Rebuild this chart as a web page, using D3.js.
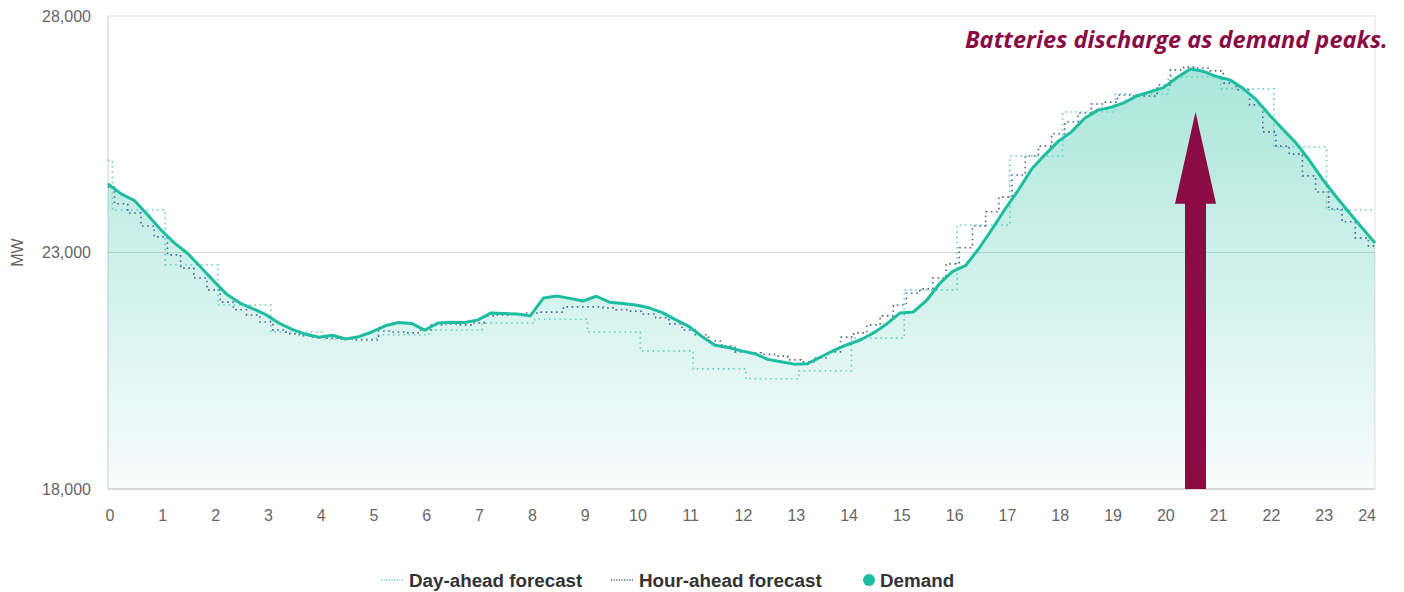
<!DOCTYPE html>
<html>
<head>
<meta charset="utf-8">
<script src="https://cdn.jsdelivr.net/npm/d3@7"></script>
<style>
  html, body { margin: 0; padding: 0; background: #ffffff; }
  svg { display: block; }
</style>
</head>
<body>
<svg id="chart" width="1404" height="592"></svg>
<script>
// ---- data ---------------------------------------------------------------
// Demand and hour-ahead forecast, MW, every 15 minutes from 0:00 to 24:00
const demand = [
  24450, 24240, 24100, 23800, 23480, 23210, 22990, 22700,
  22400, 22115, 21930, 21810, 21680, 21500, 21370, 21270,
  21210, 21250, 21170, 21220, 21320, 21450, 21520, 21500,
  21360, 21510, 21525, 21520, 21570, 21720, 21710, 21700,
  21660, 22040, 22080, 22030, 21975, 22075, 21950, 21920,
  21890, 21830, 21730, 21580, 21440, 21225, 21040, 20990,
  20920, 20860, 20740, 20690, 20640, 20650, 20790, 20930,
  21050, 21150, 21300, 21490, 21720, 21740, 21980, 22340,
  22600, 22730, 23090, 23500, 23930, 24330, 24770, 25070,
  25350, 25550, 25840, 26010, 26070, 26170, 26315, 26400,
  26490, 26700, 26880, 26830, 26720, 26650, 26470, 26230,
  25910, 25610, 25320, 24960, 24560, 24200, 23860, 23530,
  23200
];
const hourAhead = [
  24380, 24030, 23835, 23560, 23330, 22950, 22670, 22460,
  22210, 21950, 21790, 21680, 21530, 21360, 21280, 21240,
  21210, 21190, 21170, 21150, 21150, 21340, 21320, 21300,
  21360, 21470, 21490, 21470, 21510, 21660, 21680, 21700,
  21720, 21740, 21740, 21850, 21850, 21850, 21830, 21790,
  21760, 21700, 21620, 21490, 21360, 21260, 21130, 21020,
  20900, 20880, 20850, 20810, 20730, 20690, 20770, 20900,
  21210, 21300, 21470, 21660, 21890, 22140, 22230, 22460,
  22760, 23100, 23560, 23860, 24170, 24640, 25040, 25250,
  25510, 25760, 25950, 26140, 26180, 26330, 26310, 26310,
  26540, 26860, 26920, 26900, 26840, 26580, 26440, 26120,
  25550, 25250, 25080, 24620, 24280, 23920, 23650, 23310,
  23140
];
// Day-ahead forecast: last value of the previous day, then one value per hour
const dayAheadPrev = 24950;
const dayAhead = [
  23900, 22740, 21890, 21320, 21170, 21260, 21360, 21510,
  21590, 21320, 20920, 20540, 20330, 20500, 21190, 22210,
  23580, 25040, 25970, 26350, 26710, 26460, 25230, 23900
];
const xTicks = d3.range(0, 25);
const yTicks = [18000, 23000, 28000];
const seriesNames = ["Day-ahead forecast", "Hour-ahead forecast", "Demand"];
const note = "Batteries discharge as demand peaks.";
const arrowHour = 20.6, arrowTip = 25970, arrowHeadBase = 24030;

// ---- layout -------------------------------------------------------------
const svg = d3.select("#chart");
const plot = { left: 108, right: 1375, top: 16, bottom: 489 };
const x = d3.scaleLinear().domain([0, 24]).range([plot.left, plot.right]);
const y = d3.scaleLinear().domain([18000, 28000]).range([plot.bottom, plot.top]);

const teal = "#1dbd9f";
const dayColor = "#62d2bf";
const hourColor = "#4d6693";
const maroon = "#8a0c43";
const step = 0.25;
const demandPts = demand.map((v, i) => [i * step, v]);
const hourPts = hourAhead.map((v, i) => [i * step, v]);
const dayPts = [[0, dayAheadPrev]]
  .concat(dayAhead.map((v, h) => [h + 1 / 12, v]))
  .concat([[24, dayAhead[dayAhead.length - 1]]]);

// area gradient
const defs = svg.append("defs");
const grad = defs.append("linearGradient").attr("id", "fillGrad")
  .attr("gradientUnits", "userSpaceOnUse")
  .attr("x1", 0).attr("x2", 0).attr("y1", plot.top).attr("y2", plot.bottom);
grad.append("stop").attr("offset", "0%").attr("stop-color", teal).attr("stop-opacity", 0.42);
grad.append("stop").attr("offset", "100%").attr("stop-color", teal).attr("stop-opacity", 0.03);

// grid lines
svg.append("g").selectAll("line").data(yTicks).join("line")
  .attr("x1", plot.left).attr("x2", plot.right)
  .attr("y1", d => y(d)).attr("y2", d => y(d))
  .attr("stroke", "#dcdcdc").attr("stroke-width", 1.2);
// plot frame sides
svg.append("line").attr("x1", plot.left).attr("x2", plot.left)
  .attr("y1", plot.top).attr("y2", plot.bottom).attr("stroke", "#d6d6d6").attr("stroke-width", 1.2);
svg.append("line").attr("x1", plot.right).attr("x2", plot.right)
  .attr("y1", plot.top).attr("y2", plot.bottom).attr("stroke", "#e6e6e6").attr("stroke-width", 1.2);

// demand area
svg.append("path").datum(demandPts)
  .attr("fill", "url(#fillGrad)")
  .attr("d", d3.area().x(d => x(d[0])).y0(y(18000)).y1(d => y(d[1])));

// forecasts
svg.append("path").datum(dayPts)
  .attr("fill", "none").attr("stroke", dayColor).attr("stroke-width", 1.6)
  .attr("stroke-dasharray", "1.6 3.6")
  .attr("d", d3.line().x(d => x(d[0])).y(d => y(d[1])).curve(d3.curveStepAfter));
svg.append("path").datum(hourPts)
  .attr("fill", "none").attr("stroke", hourColor).attr("stroke-width", 1.6)
  .attr("stroke-dasharray", "1.6 3.6")
  .attr("d", d3.line().x(d => x(d[0])).y(d => y(d[1])).curve(d3.curveStep));

// demand line
svg.append("path").datum(demandPts)
  .attr("fill", "none").attr("stroke", teal).attr("stroke-width", 3)
  .attr("stroke-linejoin", "round")
  .attr("d", d3.line().x(d => x(d[0])).y(d => y(d[1])));

// bottom axis line
svg.append("line").attr("x1", plot.left).attr("x2", plot.right)
  .attr("y1", plot.bottom).attr("y2", plot.bottom).attr("stroke", "#cfcfcf").attr("stroke-width", 1.5);

// axis labels
const axisFont = "'Liberation Sans', Arial, sans-serif";
svg.append("g").selectAll("text").data(yTicks).join("text")
  .attr("x", 91).attr("y", d => y(d)).attr("dy", "0.35em")
  .attr("text-anchor", "end").attr("font-family", axisFont).attr("font-size", 16)
  .attr("fill", "#666").text(d => d3.format(",")(d));
svg.append("g").selectAll("text").data(xTicks).join("text")
  .attr("x", d => d === 24 ? x(d) + 1 : x(d) + 2)
  .attr("y", 521)
  .attr("text-anchor", d => d === 24 ? "end" : "middle")
  .attr("font-family", axisFont).attr("font-size", 16)
  .attr("fill", "#666").text(d => d);
svg.append("text").attr("transform", `translate(23,${y(23000)}) rotate(-90)`)
  .attr("text-anchor", "middle").attr("font-family", axisFont).attr("font-size", 16)
  .attr("fill", "#666").text("MW");

// arrow
const ax = x(arrowHour);
const shaftHalf = 10.5, headHalf = 20.5;
svg.append("path")
  .attr("fill", maroon)
  .attr("d", d3.line()([
    [ax - shaftHalf, y(18000)], [ax - shaftHalf, y(arrowHeadBase)],
    [ax - headHalf, y(arrowHeadBase)], [ax, y(arrowTip)],
    [ax + headHalf, y(arrowHeadBase)], [ax + shaftHalf, y(arrowHeadBase)],
    [ax + shaftHalf, y(18000)]
  ]) + "Z");

// note text, sized to span its box
const noteText = svg.append("text")
  .attr("x", 965).attr("y", 48)
  .attr("font-family", "'Open Sans', sans-serif")
  .attr("font-style", "italic").attr("font-weight", 700)
  .attr("font-size", 22).attr("fill", maroon).text(note);
const w = noteText.node().getComputedTextLength();
noteText.attr("font-size", 22 * 423 / w);

// legend
const legendFont = "'Liberation Sans', Arial, sans-serif";
const legendSize = 18.8;
const ly = 580;
const legend = svg.append("g");
[[381, seriesNames[0], dayColor], [611, seriesNames[1], hourColor]].forEach(([lx, name, c]) => {
  legend.append("line").attr("x1", lx).attr("x2", lx + 22).attr("y1", ly).attr("y2", ly)
    .attr("stroke", c).attr("stroke-width", 1.6).attr("stroke-dasharray", "1.2 1.4");
  legend.append("text").attr("x", lx + 28).attr("y", ly).attr("dy", "0.35em")
    .attr("font-family", legendFont).attr("font-weight", 700).attr("font-size", legendSize)
    .attr("fill", "#333").text(name);
});
legend.append("circle").attr("cx", 869).attr("cy", ly).attr("r", 6).attr("fill", teal);
legend.append("text").attr("x", 880).attr("y", ly).attr("dy", "0.35em")
  .attr("font-family", legendFont).attr("font-weight", 700).attr("font-size", legendSize)
  .attr("fill", "#333").text(seriesNames[2]);
</script>
</body>
</html>
